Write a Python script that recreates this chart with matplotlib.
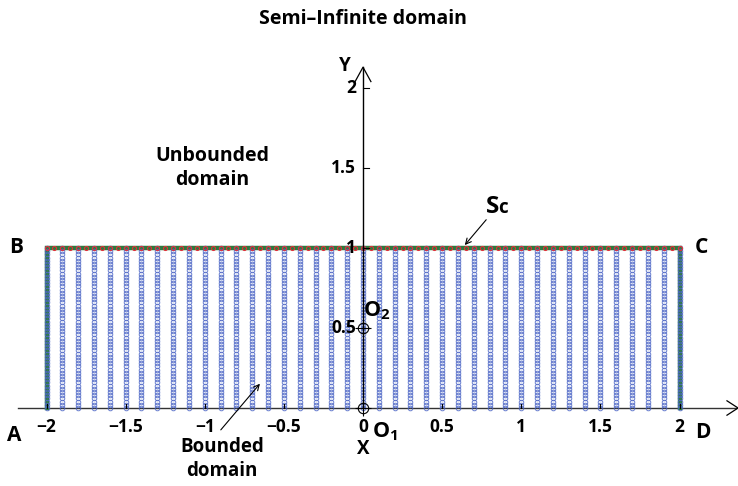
import numpy as np
import matplotlib.pyplot as plt

# domain geometry
x_left, x_right = -2.0, 2.0
y_bottom, y_top = 0.0, 1.0
dx_cols = 0.1      # spacing between vertical node lines
dy_nodes = 0.02    # spacing of nodes along a line
dx_top = 0.05      # spacing of boundary nodes on S_C

x_ticks = [-2, -1.5, -1, -0.5, 0, 0.5, 1, 1.5, 2]
x_ticklabels = ['\u22122', '\u22121.5', '\u22121', '\u22120.5', '0', '0.5', '1', '1.5', '2']
y_ticks = [0.5, 1, 1.5, 2]
y_ticklabels = ['0.5', '1', '1.5', '2']

plt.rcParams['font.family'] = ['Open Sans', 'DejaVu Sans']
fw = 'bold'

fig = plt.figure(figsize=(7.38, 4.86), dpi=100)
ax = fig.add_axes([0, 0, 1, 1])
ax.set_xlim(-363 / 158.25, (738 - 363) / 158.25)
ax.set_ylim(-78 / 160, 408 / 160)
ax.axis('off')

# axes drawn by hand
ax.plot([-2.18, 2.36], [0, 0], color='#333333', lw=1.0, zorder=1)
ax.plot([0, 0], [0, 2.13], color='black', lw=1.0, zorder=5)
ax.plot([-0.05, 0, 0.05], [2.04, 2.13, 2.04], color='black', lw=0.9, zorder=5)
ax.plot([2.3, 2.37, 2.3], [0.045, 0, -0.045], color='black', lw=0.9, zorder=5)

# boundary lines (green)
green = '#2e7a3c'
ax.plot([x_left, x_left, x_right, x_right], [y_bottom, y_top, y_top, y_bottom],
        color=green, lw=3.2, zorder=2, solid_joinstyle='miter')

# interior nodes
xs = np.linspace(x_left, x_right, int(round((x_right - x_left) / dx_cols)) + 1)
ys = np.linspace(y_bottom, y_top, int(round((y_top - y_bottom) / dy_nodes)) + 1)
for xv in xs:
    ax.plot(np.full_like(ys, xv), ys, linestyle='none', marker='o', ms=3.3,
            mfc='none', mec='#4f68c6', mew=0.7, alpha=0.85, zorder=3)

# boundary nodes on S_C
xt = np.linspace(x_left, x_right, int(round((x_right - x_left) / dx_top)) + 1)
ax.plot(xt, np.full_like(xt, y_top), linestyle='none', marker='o', ms=2.9,
        mfc='none', mec='#e0303a', mew=0.8, zorder=4)

# ticks
for t, lab in zip(x_ticks, x_ticklabels):
    ax.plot([t, t], [0, 0.025], color='black', lw=0.8, zorder=5)
    ax.text(t, -0.12, lab, ha='center', va='center', fontsize=12.5, fontweight=fw)
for t, lab in zip(y_ticks, y_ticklabels):
    ax.plot([0, 0.035], [t, t], color='black', lw=0.8, zorder=5)
    ax.text(-0.045, t, lab, ha='right', va='center', fontsize=12.5, fontweight=fw)

# origin markers
for yo in [0, 0.5]:
    ax.plot(0, yo, marker='o', ms=7.5, mfc='none', mec='black', mew=0.8, zorder=6)
    ax.plot(0, yo, marker='+', ms=12, mec='black', mew=0.8, zorder=6)

# labels
ax.text(0, 2.43, 'Semi\u2013Infinite domain', ha='center', va='center', fontsize=14, fontweight=fw)
ax.text(-0.114, 2.14, 'Y', ha='center', va='center', fontsize=13.5, fontweight=fw)
ax.text(0, -0.256, 'X', ha='center', va='center', fontsize=13.5, fontweight=fw)
ax.text(0.06, -0.15, 'O$_\\mathregular{1}$', ha='left', va='center', fontsize=15.5, fontweight=fw)
ax.text(0.0, 0.61, 'O$_\\mathregular{2}$', ha='left', va='center', fontsize=15.5, fontweight=fw)
ax.text(-2.205, -0.17, 'A', ha='center', va='center', fontsize=15, fontweight=fw)
ax.text(-2.19, 1.006, 'B', ha='center', va='center', fontsize=15, fontweight=fw)
ax.text(2.14, 1.006, 'C', ha='center', va='center', fontsize=15, fontweight=fw)
ax.text(2.15, -0.155, 'D', ha='center', va='center', fontsize=15, fontweight=fw)
ax.text(0.775, 1.219, 'S', ha='left', va='baseline', fontsize=17.5, fontweight=fw)
ax.text(0.855, 1.219, 'c', ha='left', va='baseline', fontsize=13.5, fontweight=fw)
ax.text(-0.95, 1.5, 'Unbounded\ndomain', ha='center', va='center', fontsize=14,
        fontweight=fw, linespacing=1.25)
ax.text(-0.89, -0.32, 'Bounded\ndomain', ha='center', va='center', fontsize=13.5,
        fontweight=fw, linespacing=1.25)

ax.annotate('', xy=(-0.64, 0.165), xytext=(-0.91, -0.15),
            arrowprops=dict(arrowstyle='->', color='black', lw=0.8))
ax.annotate('', xy=(0.632, 1.005), xytext=(0.79, 1.19),
            arrowprops=dict(arrowstyle='->', color='black', lw=0.8))

fig.savefig('out.png', dpi=100)
